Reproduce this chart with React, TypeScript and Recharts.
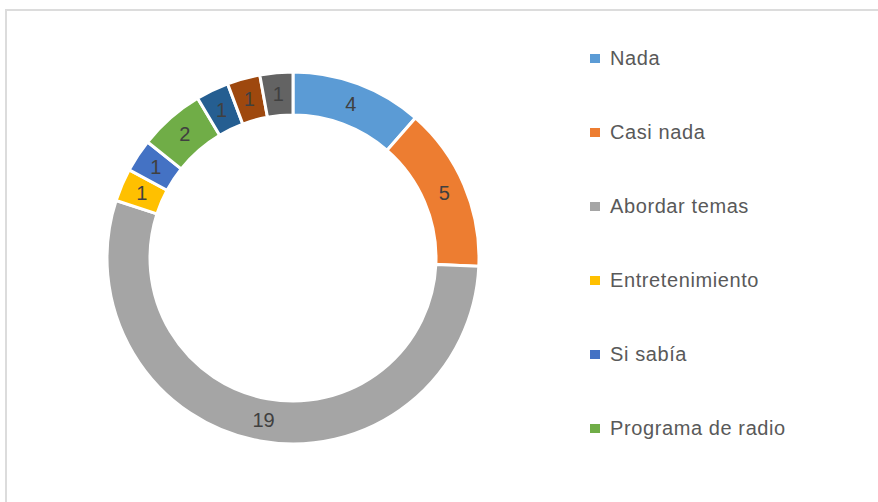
import React from "react";
import { PieChart, Pie, Cell, Legend } from "recharts";

const NAMES = [
  "Nada",
  "Casi nada",
  "Abordar temas",
  "Entretenimiento",
  "Si sabía",
  "Programa de radio",
  "Otro 1",
  "Otro 2",
  "Otro 3",
];
const VALUES = [4, 5, 19, 1, 1, 2, 1, 1, 1];
const COLORS = [
  "#5B9BD5",
  "#ED7D31",
  "#A5A5A5",
  "#FFC000",
  "#4472C4",
  "#70AD47",
  "#255E91",
  "#9E480E",
  "#636363",
];
// Excel cut the legend off after six entries
const LEGEND_COUNT = 6;

const DATA = NAMES.map((name, i) => ({ name, value: VALUES[i] }));

const RADIAN = Math.PI / 180;
const FONT = "'Liberation Sans', Arial, sans-serif";

const renderLabel = (props: any) => {
  const { cx, cy, midAngle, innerRadius, outerRadius, value } = props;
  const r = (innerRadius + outerRadius) / 2;
  const x = cx + r * Math.cos(-midAngle * RADIAN);
  const y = cy + r * Math.sin(-midAngle * RADIAN);
  return (
    <text
      x={x}
      y={y}
      fill="#404040"
      fontSize={20}
      fontFamily={FONT}
      textAnchor="middle"
      dominantBaseline="central"
    >
      {value}
    </text>
  );
};

const renderLegend = () => (
  <div style={{ fontFamily: FONT }}>
    {NAMES.slice(0, LEGEND_COUNT).map((name, i) => (
      <div
        key={name}
        style={{
          display: "flex",
          alignItems: "center",
          height: 74,
          fontSize: 20,
          letterSpacing: 0.6,
          color: "#595959",
        }}
      >
        <span
          style={{
            display: "inline-block",
            width: 10,
            height: 9,
            background: COLORS[i],
            marginRight: 10,
          }}
        />
        {name}
      </div>
    ))}
  </div>
);

export default function App() {
  return (
    <div
      style={{
        position: "fixed",
        left: 0,
        top: 0,
        width: 878,
        height: 502,
        background: "#fff",
        overflow: "hidden",
      }}
    >
      <div
        style={{
          position: "absolute",
          left: 5,
          top: 9,
          width: 900,
          height: 520,
          border: "2px solid #dcdcdc",
          boxSizing: "border-box",
        }}
      />
      <PieChart width={878} height={502} style={{ position: "absolute", left: 0, top: 0 }}>
        <Pie
          data={DATA}
          dataKey="value"
          nameKey="name"
          cx={288}
          cy={253}
          innerRadius={143}
          outerRadius={186}
          startAngle={90}
          endAngle={-270}
          stroke="#fff"
          strokeWidth={3}
          label={renderLabel}
          labelLine={false}
          isAnimationActive={false}
        >
          {DATA.map((d, i) => (
            <Cell key={d.name} fill={COLORS[i]} />
          ))}
        </Pie>
        <Legend
          content={renderLegend}
          layout="vertical"
          wrapperStyle={{ position: "absolute", left: 590, top: 21, width: 270 }}
        />
      </PieChart>
    </div>
  );
}
